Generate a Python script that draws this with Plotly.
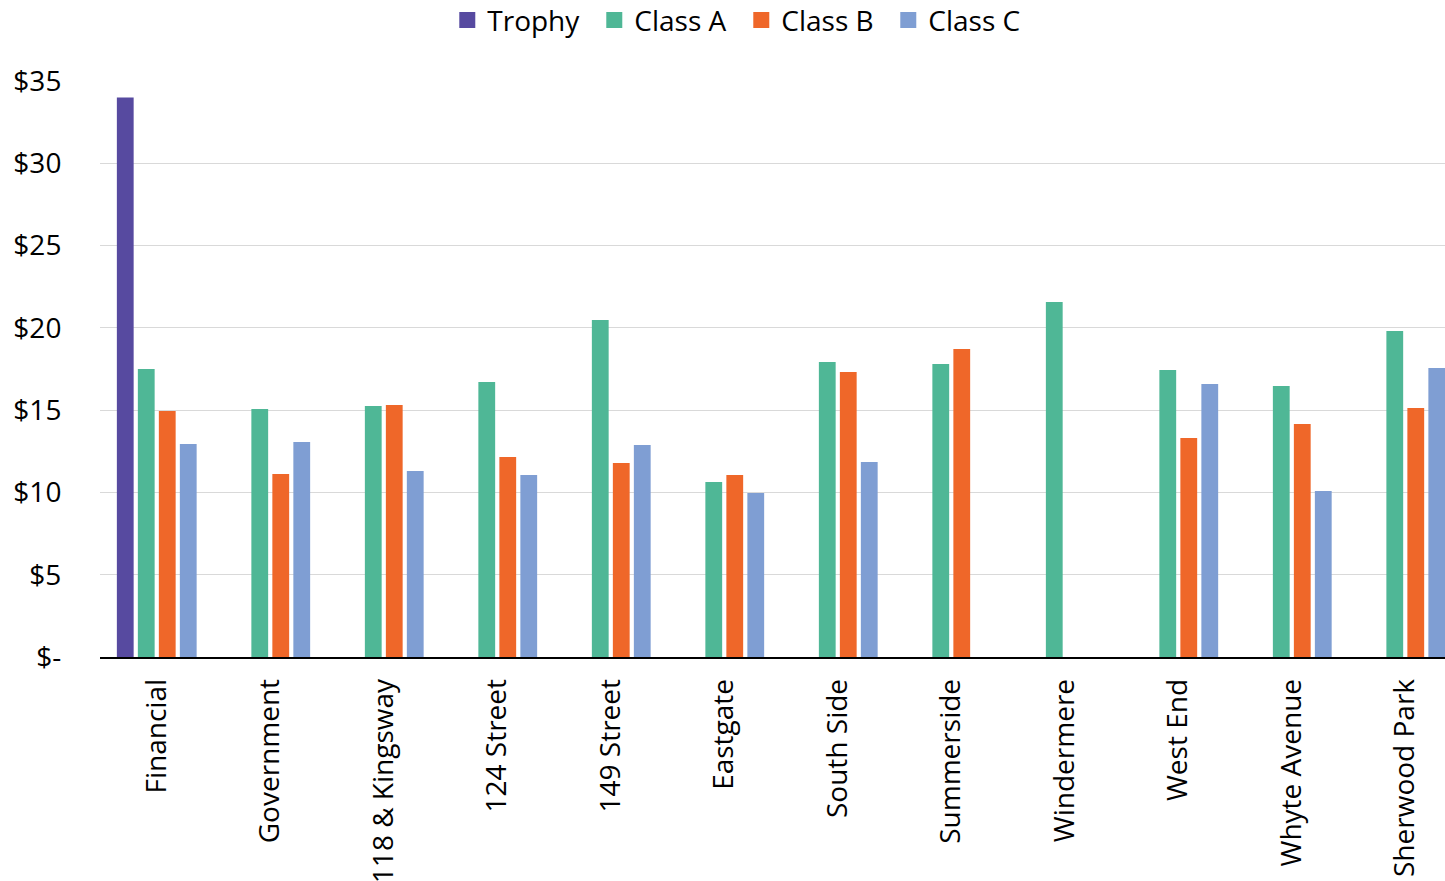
import plotly.graph_objects as go

categories = ["Financial", "Government", "118 & Kingsway", "124 Street", "149 Street",
              "Eastgate", "South Side", "Summerside", "Windermere", "West End",
              "Whyte Avenue", "Sherwood Park"]
trophy = [34.0, None, None, None, None, None, None, None, None, None, None, None]
class_a = [17.5, 15.07, 15.25, 16.71, 20.48, 10.63, 17.93, 17.8, 21.57, 17.44, 16.47, 19.81]
class_b = [14.95, 11.12, 15.31, 12.15, 11.79, 11.06, 17.32, 18.72, None, 13.31, 14.16, 15.13]
class_c = [12.94, 13.06, 11.3, 11.06, 12.88, 9.97, 11.85, None, None, 16.59, 10.09, 17.56]
y_ticks = [0, 5, 10, 15, 20, 25, 30, 35]
y_labels = ["$-", "$5", "$10", "$15", "$20", "$25", "$30", "$35"]

series = [("Trophy", trophy, "#574AA0"), ("Class A", class_a, "#4FB796"),
          ("Class B", class_b, "#EF6729"), ("Class C", class_c, "#7F9ED3")]

fig = go.Figure()
for name, vals, color in series:
    fig.add_trace(go.Bar(x=list(range(len(categories))), y=vals, name=name,
                         showlegend=False,
                         marker=dict(color=color, line=dict(width=0))))
# legend entries with larger square swatches
for name, vals, color in series:
    fig.add_trace(go.Scatter(x=[None], y=[None], mode="markers", name=name,
                             showlegend=True,
                             marker=dict(symbol="square", size=18, color=color,
                                         line=dict(width=0))))

font = "Open Sans, sans-serif"
fig.update_layout(
    width=1445, height=881,
    margin=dict(l=100, r=0, t=81, b=224),
    paper_bgcolor="white", plot_bgcolor="white",
    barmode="group", bargap=0.26, bargroupgap=0.2,
    font=dict(family=font, size=28, color="#000000"),
    showlegend=True,
    legend=dict(orientation="h", xref="container", yref="container",
                x=0.513, xanchor="center", y=0.977, yanchor="middle",
                font=dict(size=28, color="#000000"), itemwidth=30,
                entrywidth=102, tracegroupgap=0),
)
fig.update_xaxes(
    tickmode="array", tickvals=list(range(len(categories))), ticktext=categories,
    range=[-0.5, 11.35], tickangle=-90, showgrid=False,
    showline=True, linecolor="#000000", linewidth=1.5,
    ticks="outside", ticklen=9, tickcolor="rgba(0,0,0,0)",
    automargin=False, tickfont=dict(size=28, family=font, color="#000000"),
)
fig.update_yaxes(
    range=[0, 35], tickmode="array", tickvals=y_ticks, ticktext=y_labels,
    showgrid=True, gridcolor="#D9D9D9", gridwidth=1.3, zeroline=False,
    ticks="outside", ticklen=32, tickcolor="rgba(0,0,0,0)",
    automargin=False, tickfont=dict(size=28, family=font, color="#000000"),
)
fig.write_html("out.html")
